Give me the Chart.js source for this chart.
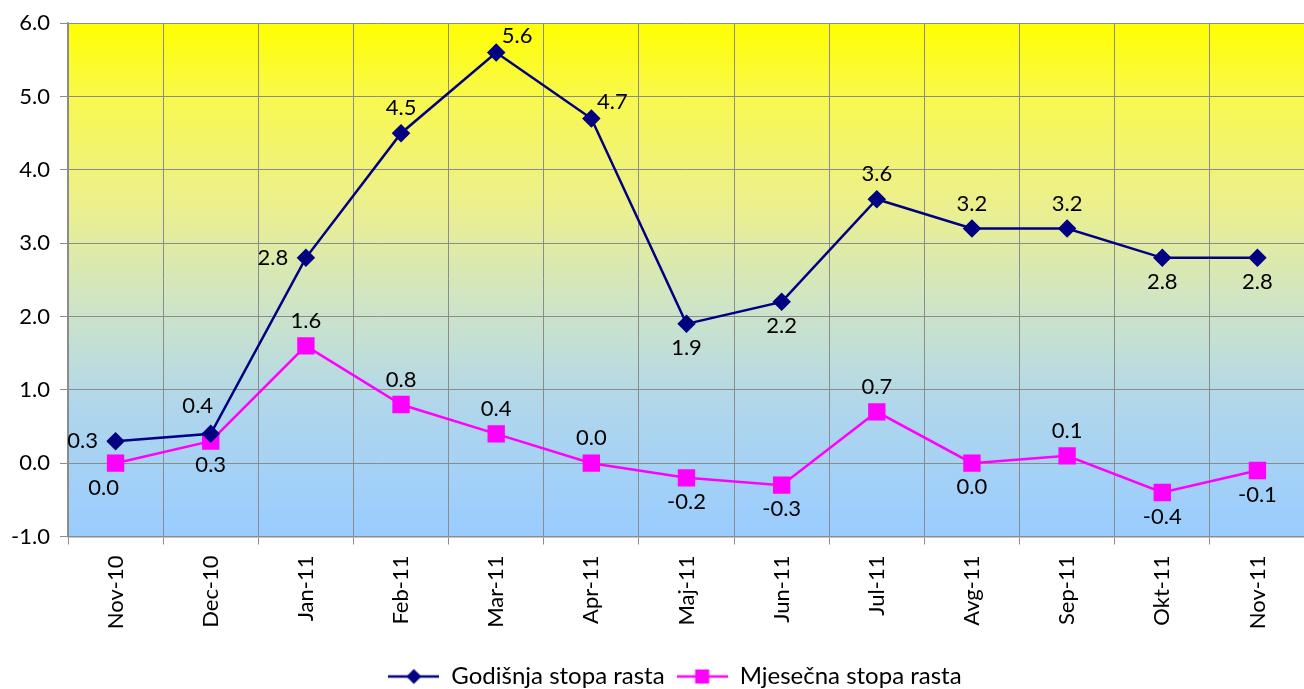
<!DOCTYPE html>
<html>
<head>
<meta charset="utf-8">
<script src="https://cdn.jsdelivr.net/npm/chart.js@4/dist/chart.umd.min.js"></script>
<style>
html,body{margin:0;padding:0;background:#fff;overflow:hidden;width:1304px;height:689px;}
#wrap{width:1350px;height:689px;position:relative;}
</style>
</head>
<body>
<div id="wrap"><canvas id="c"></canvas></div>
<script>
const categories = ['Nov-10','Dec-10','Jan-11','Feb-11','Mar-11','Apr-11','Maj-11','Jun-11','Jul-11','Avg-11','Sep-11','Okt-11','Nov-11'];
const godisnja = [0.3,0.4,2.8,4.5,5.6,4.7,1.9,2.2,3.6,3.2,3.2,2.8,2.8];
const mjesecna = [0.0,0.3,1.6,0.8,0.4,0.0,-0.2,-0.3,0.7,0.0,0.1,-0.4,-0.1];
const seriesNames = ['Godišnja stopa rasta','Mjesečna stopa rasta'];
const yTicks = [-1,0,1,2,3,4,5,6];

// label placement (style only)
const godPos = ['left','aboveL','left','above','right','right','below','below','above','above','above','below','below'];
const mjPos  = ['belowL','below','above','above','above','above','below','below','above','below','above','below','below'];

const FONT = 'Lato, "Open Sans", sans-serif';

function legendIcon(color, shape){
  const c = document.createElement('canvas');
  c.width = 51; c.height = 18;
  const x = c.getContext('2d');
  x.strokeStyle = color; x.lineWidth = 2.5;
  x.beginPath(); x.moveTo(0,9); x.lineTo(51,9); x.stroke();
  x.fillStyle = color;
  const cx = 25.5;
  if(shape==='diamond'){
    x.beginPath(); x.moveTo(cx,1.5); x.lineTo(cx+7.5,9); x.lineTo(cx,16.5); x.lineTo(cx-7.5,9); x.closePath(); x.fill();
  } else {
    x.fillRect(cx-7,2,14,14);
  }
  return c;
}
const icons = [legendIcon('#000080','diamond'), legendIcon('#FF00FF','square')];

const bgPlugin = {
  id:'bg',
  beforeDraw(chart){
    const {ctx, chartArea:a} = chart;
    const g = ctx.createLinearGradient(0,a.top,0,a.bottom);
    g.addColorStop(0,'#FFFF00');
    g.addColorStop(0.15,'#F8F850');
    g.addColorStop(0.35,'#ECF08C');
    g.addColorStop(0.55,'#CFE4C6');
    g.addColorStop(0.75,'#AFD6EC');
    g.addColorStop(1,'#99CCFF');
    ctx.save(); ctx.fillStyle = g;
    ctx.fillRect(a.left,a.top,a.right-a.left,a.bottom-a.top);
    ctx.restore();
  }
};

const labelPlugin = {
  id:'dlabels',
  afterDatasetsDraw(chart){
    const ctx = chart.ctx;
    const posSets = [godPos, mjPos];
    ctx.save();
    ctx.font = '22px ' + FONT;
    ctx.fillStyle = '#000';
    ctx.textAlign = 'center'; ctx.textBaseline = 'middle';
    chart.data.datasets.forEach((ds,di)=>{
      const meta = chart.getDatasetMeta(di);
      meta.data.forEach((pt,i)=>{
        const p = posSets[di][i];
        let dx=0, dy=0;
        if(p==='above'){dy=-25;}
        else if(p==='below'){dy=24;}
        else if(p==='left'){dx=-33;}
        else if(p==='right'){dx=21;dy=-17;}
        else if(p==='aboveL'){dx=-13;dy=-28;}
        else if(p==='belowL'){dx=-12;dy=25;}
        ctx.fillText(ds.data[i].toFixed(1), pt.x+dx, pt.y+dy);
      });
    });
    ctx.restore();
  }
};

new Chart(document.getElementById('c'),{
  type:'line',
  data:{
    labels:categories,
    datasets:[
      {label:seriesNames[0], data:godisnja, borderColor:'#000080', backgroundColor:'#000080', borderWidth:2.5,
       pointStyle:'rectRot', pointRadius:7.5, pointHoverRadius:7.5, tension:0, fill:false},
      {label:seriesNames[1], data:mjesecna, borderColor:'#FF00FF', backgroundColor:'#FF00FF', borderWidth:2.5,
       pointStyle:'rect', pointRadius:10.5, pointHoverRadius:10.5, tension:0, fill:false}
    ]
  },
  options:{
    responsive:true, maintainAspectRatio:false, animation:false, devicePixelRatio:1,
    layout:{padding:{top:20,right:0,bottom:-9.5,left:0}},
    plugins:{
      tooltip:{enabled:false},
      legend:{
        position:'bottom',
        labels:{
          usePointStyle:true, pointStyleWidth:51, padding:12, color:'#000',
          font:{family:FONT,size:24},
          generateLabels(chart){
            return chart.data.datasets.map((d,i)=>({text:d.label, pointStyle:icons[i], datasetIndex:i, fillStyle:d.borderColor, strokeStyle:d.borderColor, lineWidth:0, fontColor:'#000'}));
          }
        }
      }
    },
    scales:{
      x:{
        offset:true,
        grid:{offset:true, color:'#8C8C8C', lineWidth:1, tickLength:8, drawTicks:true},
        border:{color:'#8C8C8C', width:1.5},
        ticks:{color:'#000', font:{family:FONT,size:22}, minRotation:90, maxRotation:90, padding:11, autoSkip:false},
        afterFit(s){ s.height = 116; }
      },
      y:{
        min:-1, max:6,
        afterBuildTicks(s){ s.ticks = yTicks.map(v=>({value:v})); },
        grid:{color:'#8C8C8C', lineWidth:1, tickLength:8},
        border:{color:'#8C8C8C', width:1.5},
        ticks:{color:'#000', font:{family:FONT,size:22}, padding:10, callback:v=>Number(v).toFixed(1)},
        afterFit(s){ s.width = 68; }
      },
      yR:{
        position:'right', min:-1, max:6,
        grid:{display:false, drawTicks:false},
        border:{display:false},
        ticks:{display:false},
        afterFit(s){ s.width = 45; }
      }
    }
  },
  plugins:[bgPlugin, labelPlugin]
});
</script>
</body>
</html>
